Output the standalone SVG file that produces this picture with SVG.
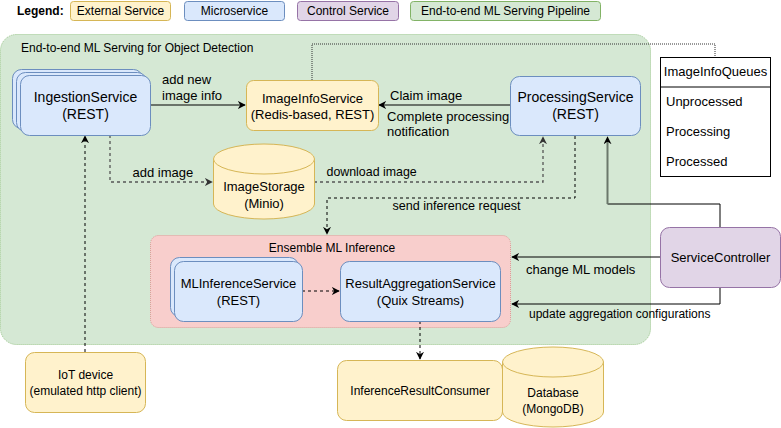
<svg xmlns="http://www.w3.org/2000/svg" width="781" height="428" viewBox="0 0 781 428">
<defs>
<style>
text{font-family:"Liberation Sans",Arial,sans-serif;fill:#000;font-size:13px}
.s12{font-size:12px}
.s14{font-size:14px}
.c{text-anchor:middle}
.micro{fill:#dae8fc;stroke:#6c8ebf;stroke-width:1}
.ext{fill:#fff2cc;stroke:#d6b656;stroke-width:1}
.ctrl{fill:#e1d5e7;stroke:#9673a6;stroke-width:1}
.grn{fill:#d5e8d4;stroke:#82b366;stroke-width:1}
.ens{fill:#f8cecc;stroke:#e09a98;stroke-width:1;stroke-dasharray:1 1}
.ln{fill:none;stroke:#000;stroke-width:1}
.dash{fill:none;stroke:#000;stroke-width:1;stroke-dasharray:3 3}
.gdash{fill:none;stroke:#555;stroke-width:1.3;stroke-dasharray:3 3}
.dot{fill:none;stroke:#333;stroke-width:1;stroke-dasharray:1 1}
</style>
<marker id="arr" viewBox="0 0 10 10" refX="9" refY="5" markerWidth="8" markerHeight="8" markerUnits="userSpaceOnUse" orient="auto">
<path d="M0,0 L10,5 L0,10 L3,5 z" fill="#000"/>
</marker>
<marker id="garr" viewBox="0 0 10 10" refX="9" refY="5" markerWidth="8" markerHeight="8" markerUnits="userSpaceOnUse" orient="auto">
<path d="M0,0 L10,5 L0,10 L3,5 z" fill="#333"/>
</marker>
</defs>

<g id="legend">
<text x="17" y="15" class="s12" font-weight="bold">Legend:</text>
<rect x="70.5" y="1.5" width="100" height="19" rx="3" class="ext"/>
<text x="120.5" y="15" class="s12 c">External Service</text>
<rect x="184.5" y="1.5" width="100" height="19" rx="3" class="micro"/>
<text x="234.5" y="15" class="s12 c">Microservice</text>
<rect x="297.5" y="1.5" width="101" height="19" rx="3" class="ctrl"/>
<text x="348" y="15" class="s12 c">Control Service</text>
<rect x="410.5" y="1.5" width="190" height="19" rx="3" class="grn"/>
<text x="505.5" y="15" class="s12 c">End-to-end ML Serving Pipeline</text>
</g>

<g id="pipeline">
<rect x="0.5" y="34.5" width="650" height="310" rx="16" class="grn" style="stroke:#97c488;stroke-dasharray:1 1"/>
<text x="21" y="52" class="s12">End-to-end ML Serving for Object Detection</text>
</g>

<g id="ensemble">
<rect x="150.5" y="235.5" width="360" height="92" rx="8" class="ens"/>
<text x="332" y="251.5" class="s12 c">Ensemble ML Inference</text>
</g>

<g id="connectors">
<path d="M312,80 V44 H715 V57" class="dot"/>
<path d="M150,105 H245" class="ln" marker-end="url(#arr)"/>
<path d="M510,105 H379" class="ln" marker-end="url(#arr)"/>
<text x="162" y="84">add new</text>
<text x="162" y="100">image info</text>
<text x="390" y="100">Claim image</text>
<text x="387" y="120.5">Complete processing</text>
<text x="387" y="136">notification</text>
<path d="M110,135 V182 H212" class="gdash" marker-end="url(#garr)"/>
<text x="132.5" y="177">add image</text>
<path d="M314,182 H543 V137" class="gdash" marker-end="url(#garr)"/>
<text x="326.5" y="176" style="font-size:12.4px">download image</text>
<path d="M575,136 V198 H327 V234" class="dash" marker-end="url(#arr)"/>
<text x="392.5" y="209.5" style="font-size:12.6px">send inference request</text>
<path d="M720,227 V204 H607.5 V137" class="ln" marker-end="url(#arr)"/>
<path d="M607.5,204 V142" fill="none" stroke="#6b786b" stroke-width="2"/>
<path d="M660,257 H512" class="ln" marker-end="url(#arr)"/>
<text x="526" y="273.5">change ML models</text>
<path d="M720,287 V304 H512" class="ln" marker-end="url(#arr)"/>
<text x="529" y="318" class="s12">update aggregation configurations</text>
<path d="M302,291 H339" class="dash" marker-end="url(#arr)"/>
<path d="M420,321 V359" class="dash" marker-end="url(#arr)"/>
<path d="M85,352 V136" class="dash" stroke-dasharray="3 2 1 2" marker-end="url(#arr)"/>
</g>

<g id="IngestionService">
<rect x="12.5" y="69.5" width="130" height="59" rx="9" class="micro"/>
<rect x="16.5" y="72.5" width="130" height="59" rx="9" class="micro"/>
<rect x="20.5" y="75.5" width="130" height="60" rx="9" class="micro"/>
<text x="85.5" y="102" class="s14 c">IngestionService</text>
<text x="85.5" y="119" class="s14 c">(REST)</text>
</g>

<g id="ImageInfoService">
<rect x="246.5" y="80.5" width="132" height="50" rx="7" class="ext"/>
<text x="312.5" y="102.5" class="c">ImageInfoService</text>
<text x="312.5" y="118.5" class="c">(Redis-based, REST)</text>
</g>

<g id="ProcessingService">
<rect x="510.5" y="76.5" width="130" height="59" rx="9" class="micro"/>
<text x="575.5" y="102" class="s14 c">ProcessingService</text>
<text x="575.5" y="119" class="s14 c">(REST)</text>
</g>

<g id="ImageInfoQueues">
<rect x="660.5" y="57.5" width="110" height="119" fill="#fff" stroke="#000"/>
<path d="M660.5,87 H770.5" stroke="#000" fill="none"/>
<text x="715.5" y="76" class="c">ImageInfoQueues</text>
<text x="666" y="106">Unprocessed</text>
<text x="666" y="136">Processing</text>
<text x="666" y="166">Processed</text>
</g>

<g id="ImageStorage">
<path d="M213.5,159 A50.5,15 0 0 1 314.5,159 V204 A50.5,15 0 0 1 213.5,204 Z" class="ext"/>
<path d="M213.5,159 A50.5,15 0 0 0 314.5,159" class="ext" fill="none"/>
<text x="264" y="191" class="c">ImageStorage</text>
<text x="264" y="208" class="c">(Minio)</text>
</g>

<g id="MLInferenceService">
<rect x="170.5" y="257.5" width="128" height="59" rx="9" class="micro"/>
<rect x="174.5" y="261.5" width="128" height="60" rx="9" class="micro"/>
<text x="238.5" y="288" class="c">MLInferenceService</text>
<text x="238.5" y="304.5" class="c">(REST)</text>
</g>

<g id="ResultAggregationService">
<rect x="340.5" y="261.5" width="160" height="60" rx="9" class="micro"/>
<text x="420.5" y="288" class="c">ResultAggregationService</text>
<text x="420.5" y="304.5" class="c">(Quix Streams)</text>
</g>

<g id="ServiceController">
<rect x="660.5" y="227.5" width="120" height="60" rx="9" class="ctrl"/>
<text x="720.5" y="262" class="c">ServiceController</text>
</g>

<g id="IoTDevice">
<rect x="25.5" y="352.5" width="120" height="60" rx="9" class="ext"/>
<text x="85.5" y="379" class="s12 c">IoT device</text>
<text x="85.5" y="395" class="s12 c">(emulated http client)</text>
</g>

<g id="InferenceResultConsumer">
<rect x="337.5" y="360.5" width="165" height="60" rx="9" class="ext"/>
<text x="420" y="395" class="s12 c">InferenceResultConsumer</text>
</g>

<g id="Database">
<path d="M502.5,362 A50.5,15 0 0 1 603.5,362 V412 A50.5,15 0 0 1 502.5,412 Z" class="ext"/>
<path d="M502.5,362 A50.5,15 0 0 0 603.5,362" class="ext" fill="none"/>
<text x="553" y="397" class="s12 c">Database</text>
<text x="553" y="413" class="s12 c">(MongoDB)</text>
</g>
</svg>
